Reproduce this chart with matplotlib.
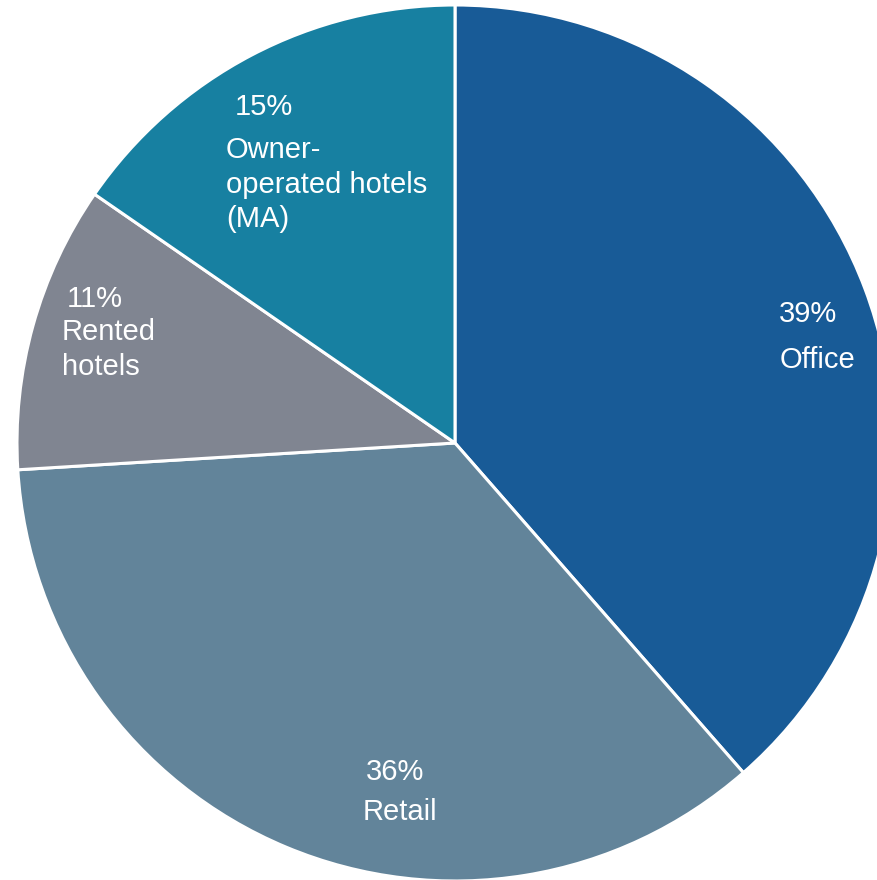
import matplotlib
matplotlib.use('Agg')
import matplotlib.pyplot as plt

# Portfolio split (clockwise from 12 o'clock)
categories = ['Office', 'Retail', 'Rented\nhotels', 'Owner-\noperated hotels\n(MA)']
shares = [38.6, 35.5, 10.6, 15.4]
pct_labels = ['39%', '36%', '11%', '15%']
colors = ['#185b97', '#62849a', '#808591', '#1780a1']

W, H = 878, 880
CX, CY, R = 455, 443, 438  # pie centre / radius in pixels


def px(x, y):
    # pixel position -> data coords (pie radius = 1)
    return (x - CX) / R, (CY - y) / R


fig = plt.figure(figsize=(W / 100, H / 100), dpi=100)
ax = fig.add_axes([0, 0, 1, 1])
ax.pie(shares, colors=colors, startangle=90, counterclock=False,
       wedgeprops=dict(edgecolor='white', linewidth=2.2))
ax.set_xlim(px(0, 0)[0], px(W, 0)[0])
ax.set_ylim(px(0, H)[1], px(0, 0)[1])
ax.set_aspect('equal')
ax.axis('off')

# label anchors (left x, baseline y of pct line / first name line)
pct_pos = [(779, 322), (366, 780), (67, 307), (235, 115)]
name_pos = [(780, 368), (363, 820), (62, 340), (226, 158)]

font = dict(color='white', fontsize=21, family=['Liberation Sans', 'DejaVu Sans'])
for name, pct, pp, npos in zip(categories, pct_labels, pct_pos, name_pos):
    ax.text(*px(*pp), pct, ha='left', va='baseline', **font)
    # one text per line so the line pitch matches the reference
    for i, line in enumerate(name.split('\n')):
        ax.text(*px(npos[0], npos[1] + i * 34.5), line,
                ha='left', va='baseline', **font)

fig.savefig('out.png', dpi=100)
